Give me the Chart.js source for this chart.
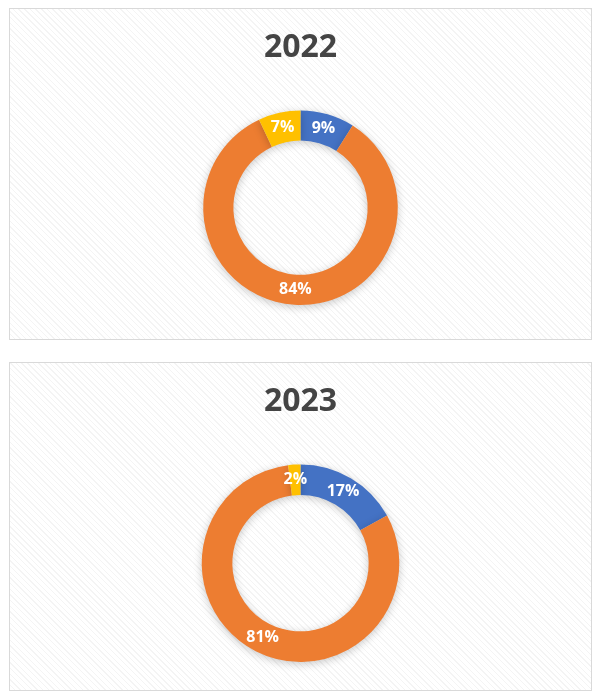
<!DOCTYPE html>
<html>
<head>
<meta charset="utf-8">
<script src="https://cdn.jsdelivr.net/npm/chart.js@4.4.1/dist/chart.umd.min.js"></script>
<style>
  html, body { margin: 0; padding: 0; background: #ffffff; width: 600px; height: 700px; overflow: hidden; }
  .panel {
    position: absolute;
    left: 9px;
    width: 581px;
    border: 1px solid #d9d9d9;
    background-color: #ffffff;
    background-image: repeating-linear-gradient(45deg, #ffffff 0px, #ffffff 3px, #f4f4f4 3px, #f4f4f4 4px);
  }
  #p1 { top: 8px; height: 330px; }
  #p2 { top: 362px; height: 327px; }
  canvas { display: block; }
</style>
</head>
<body>
<div class="panel" id="p1"><canvas id="c1"></canvas></div>
<div class="panel" id="p2"><canvas id="c2"></canvas></div>
<script>
// ---- data ----
const categories = ['Category 1', 'Category 2', 'Category 3'];
const values2022 = [9, 84, 7];
const values2023 = [17, 81, 2];
const titles = ['2022', '2023'];
const sliceColors = ['#4472C4', '#ED7D31', '#FFC000'];

const FONT = "'Open Sans', 'DejaVu Sans', sans-serif";

const shadowPlugin = {
  id: 'ringShadow',
  beforeDatasetDraw(chart) {
    const ctx = chart.ctx;
    ctx.save();
    ctx.shadowColor = 'rgba(0,0,0,0.22)';
    ctx.shadowBlur = 9;
    ctx.shadowOffsetX = 0;
    ctx.shadowOffsetY = 2;
  },
  afterDatasetDraw(chart) {
    chart.ctx.restore();
  }
};

const labelPlugin = {
  id: 'sliceLabels',
  afterDatasetsDraw(chart) {
    const ctx = chart.ctx;
    const meta = chart.getDatasetMeta(0);
    const data = chart.data.datasets[0].data;
    ctx.save();
    ctx.fillStyle = '#ffffff';
    ctx.font = "bold 16px " + FONT;
    ctx.textAlign = 'center';
    ctx.textBaseline = 'middle';
    meta.data.forEach((arc, i) => {
      const p = arc.tooltipPosition();
      ctx.fillText(data[i] + '%', p.x, p.y);
    });
    ctx.restore();
  }
};

function makeChart(id, title, values, padBottom) {
  return new Chart(document.getElementById(id), {
    type: 'doughnut',
    data: {
      labels: categories,
      datasets: [{
        data: values,
        backgroundColor: sliceColors,
        borderWidth: 0,
        hoverOffset: 0
      }]
    },
    options: {
      responsive: true,
      maintainAspectRatio: false,
      animation: false,
      cutout: '69%',
      layout: { padding: { top: 0, bottom: padBottom, left: 0, right: 0 } },
      plugins: {
        legend: { display: false },
        tooltip: { enabled: false },
        title: {
          display: true,
          text: title,
          color: '#444444',
          font: { family: FONT, size: 32, weight: 'bold', lineHeight: 1.2 },
          padding: { top: 20, bottom: 43 }
        }
      }
    },
    plugins: [shadowPlugin, labelPlugin]
  });
}

makeChart('c1', titles[0], values2022, 34);
makeChart('c2', titles[1], values2023, 28);
</script>
</body>
</html>
